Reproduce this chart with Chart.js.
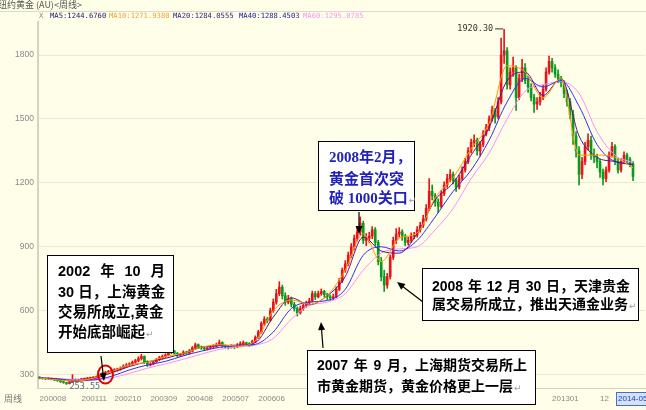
<!DOCTYPE html>
<html><head><meta charset="utf-8">
<script src="https://cdn.jsdelivr.net/npm/chart.js@4.4.1/dist/chart.umd.min.js"></script>
<style>html,body{margin:0;padding:0;background:#fefee9;overflow:hidden}canvas{display:block}</style>
</head><body>
<canvas id="c" width="646" height="410"></canvas>
<script>
// ---------- data ----------
const title = '纽约黄金 (AU)<周线>';
const opens = [
286,284,282,280,283,278,274,272,266,262,
258,264,275,272,276,278,280,282,284,286,
290,296,305,310,315,318,322,325,330,340,
345,350,358,365,375,385,360,345,350,360,
370,380,385,392,405,410,400,390,395,405,
400,410,425,440,430,425,420,425,430,432,
440,450,435,430,428,432,430,438,445,448,
445,440,455,475,500,540,560,555,600,640,
680,710,670,640,655,630,610,590,610,625,
635,645,680,665,680,690,675,665,660,665,
700,740,790,820,860,900,940,970,1010,930,
940,950,980,920,830,760,720,760,850,930,
960,970,950,920,930,950,955,980,1000,1030,
1080,1160,1140,1110,1090,1150,1190,1220,1240,1210,
1180,1220,1260,1300,1350,1390,1400,1350,1380,1430,
1460,1500,1540,1510,1580,1800,1820,1660,1720,1740,
1600,1690,1740,1680,1650,1600,1570,1580,1600,1640,
1720,1770,1740,1710,1690,1670,1620,1580,1520,1420,
1350,1240,1300,1370,1400,1330,1320,1300,1250,1220,
1260,1330,1370,1300,1260,1300,1330,1310,1290];
const highs = [
290,287,285,287,285,281,277,274,268,264,
268,300,280,279,282,284,286,288,290,294,
300,310,316,320,324,328,330,336,346,352,
356,364,372,384,395,388,365,356,366,376,
386,392,398,412,420,414,404,400,412,410,
418,432,448,444,434,430,432,436,440,448,
462,454,440,436,440,438,446,454,458,452,
450,462,482,508,548,572,568,612,655,700,
736,720,684,672,664,640,618,622,636,645,
658,692,690,692,702,696,682,674,678,712,
752,800,835,875,915,955,990,1040,1020,962,
968,995,990,930,850,790,775,862,945,985,
990,980,958,945,965,968,995,1015,1048,1098,
1220,1190,1150,1125,1165,1205,1240,1262,1250,1220,
1235,1275,1315,1365,1405,1425,1410,1395,1445,1475,
1515,1560,1550,1600,1880,1920.3,1835,1740,1790,1750,
1710,1780,1760,1700,1665,1615,1600,1625,1660,1740,
1795,1785,1755,1730,1700,1680,1635,1595,1540,1440,
1370,1320,1390,1430,1420,1360,1335,1310,1265,1275,
1345,1390,1380,1315,1315,1345,1340,1320,1300];
const lows = [
280,278,276,278,275,271,268,263,259,253.55,
256,262,268,269,273,275,277,279,281,283,
287,292,300,306,310,313,316,320,327,334,
340,345,352,360,368,352,338,340,346,355,
365,372,380,388,398,394,382,384,390,394,
396,405,420,422,418,412,415,420,424,428,
435,428,424,420,424,422,426,432,440,436,
432,436,450,470,494,530,542,550,592,630,
670,655,625,632,618,598,575,584,602,615,
626,640,652,660,672,664,652,648,652,660,
694,732,780,810,848,885,925,955,915,905,
920,938,905,815,740,690,705,748,840,915,
945,930,905,908,920,938,945,968,990,1020,
1070,1120,1090,1060,1082,1140,1178,1205,1195,1160,
1172,1210,1250,1290,1340,1370,1330,1325,1370,1420,
1445,1490,1480,1500,1570,1760,1640,1640,1700,1540,
1590,1675,1665,1625,1585,1530,1545,1565,1590,1630,
1710,1720,1695,1670,1650,1600,1560,1500,1380,1320,
1190,1220,1285,1355,1310,1295,1270,1225,1190,1205,
1250,1320,1285,1245,1250,1290,1295,1275,1210];
const closes = [
284,282,280,283,278,274,272,266,262,258,
264,275,272,276,278,280,282,284,286,290,
296,305,310,315,318,322,325,330,340,345,
350,358,365,375,385,360,345,350,360,370,
380,385,392,405,410,400,390,395,405,400,
410,425,440,430,425,420,425,430,432,440,
450,435,430,428,432,430,438,445,448,445,
440,455,475,500,540,560,555,600,640,680,
710,670,640,655,630,610,590,610,625,635,
645,680,665,680,690,675,665,660,665,700,
740,790,820,860,900,940,970,1010,930,940,
950,980,920,830,760,720,760,850,930,960,
970,950,920,930,950,955,980,1000,1030,1080,
1160,1140,1110,1090,1150,1190,1220,1240,1210,1180,
1220,1260,1300,1350,1390,1400,1350,1380,1430,1460,
1500,1540,1510,1580,1800,1820,1660,1720,1740,1600,
1690,1740,1680,1650,1600,1570,1580,1600,1640,1720,
1770,1740,1710,1690,1670,1620,1580,1520,1420,1350,
1240,1300,1370,1400,1330,1320,1300,1250,1220,1260,
1330,1370,1300,1260,1300,1330,1310,1290,1230];

// moving averages, read at every 6th candle
const maIndex = [0,6,12,18,24,30,36,42,48,54,60,66,72,78,84,90,96,102,108,114,120,126,132,138,144,150,156,162,168,174,180,186,192,198];
const ma10 = [284,275,270,283,314,345,358,385,400,428,440,434,458,600,650,630,672,790,960,830,940,965,1130,1225,1360,1480,1750,1720,1600,1690,1330,1330,1320,1271];
const ma20 = [284,278,268,280,308,338,360,376,400,428,436,438,450,570,660,628,670,760,945,880,870,962,1120,1200,1330,1460,1680,1720,1610,1690,1420,1320,1300,1284];
const ma40 = [284,280,273,275,292,322,345,362,388,410,428,436,442,500,610,640,648,700,860,900,880,930,1040,1160,1260,1400,1580,1690,1650,1680,1560,1380,1300,1288];
const ma60 = [284,282,276,274,284,306,330,350,372,396,418,430,438,470,560,625,640,680,790,870,890,900,980,1080,1220,1340,1500,1630,1660,1675,1620,1440,1330,1295];

const maNames = ['MA5','MA10','MA20','MA40','MA60'];
const maLast = ['1244.6760','1271.9380','1284.0555','1288.4503','1295.0785'];

const yTicks = [300,600,900,1200,1500,1800];
const xTickIndex = [0,14,25,37,49,61,73,171,187,193];
const xTickLabels = ['200008','200111','200210','200309','200408','200507','200606','201301','12','2014-05'];

// ---------- styles ----------
const BG = '#fefee9';
const UP = '#e8141a', DOWN = '#0a9a1e';
const lineColors = {ma10:'#ff9a00', ma20:'#5c1290', ma40:'#2e2eff', ma60:'#ff8cff'};
const legendColors = ['#1c1c70','#f2a23a','#3a1a7a','#1c1c9c','#f59af5'];
const legendX = [50,109,173,239,303];

const candleColors = closes.map((c,i)=> c >= opens[i] ? UP : DOWN);
const bodyData = closes.map((c,i)=>({x:i, y:[opens[i], c]}));
const wickData = closes.map((c,i)=>({x:i, y:[lows[i], highs[i]]}));
const maLine = arr => arr.map((v,k)=>({x:maIndex[k], y:v}));

function arrow(ctx,x1,y1,x2,y2){
  const a=Math.atan2(y2-y1,x2-x1), L=8, W=3.5;
  ctx.strokeStyle='#000'; ctx.fillStyle='#000'; ctx.lineWidth=1.2;
  ctx.beginPath(); ctx.moveTo(x1,y1); ctx.lineTo(x2-Math.cos(a)*L*0.8,y2-Math.sin(a)*L*0.8); ctx.stroke();
  ctx.beginPath(); ctx.moveTo(x2,y2);
  ctx.lineTo(x2-Math.cos(a)*L+Math.sin(a)*W, y2-Math.sin(a)*L-Math.cos(a)*W);
  ctx.lineTo(x2-Math.cos(a)*L-Math.sin(a)*W, y2-Math.sin(a)*L+Math.cos(a)*W);
  ctx.closePath(); ctx.fill();
}
function box(ctx,x,y,w,h){
  ctx.fillStyle='#ffffff'; ctx.fillRect(x,y,w,h);
  ctx.strokeStyle='#000'; ctx.lineWidth=1; ctx.strokeRect(x+0.5,y+0.5,w,h);
}
function just(ctx,parts,x,w,y){
  const ws=parts.map(p=>ctx.measureText(p).width);
  const tot=ws.reduce((a,b)=>a+b,0);
  const gap=parts.length>1?(w-tot)/(parts.length-1):0;
  let cx=x; parts.forEach((p,k)=>{ctx.fillText(p,cx,y); cx+=ws[k]+gap;});
}
function ret(ctx,text,x,y){
  const w=ctx.measureText(text).width;
  ctx.fillText(text,x,y);
  const f=ctx.font, c=ctx.fillStyle;
  ctx.font='9px "DejaVu Sans"'; ctx.fillStyle='#9a9a9a'; ctx.fillText('↵',x+w+1,y+2);
  ctx.font=f; ctx.fillStyle=c;
}

const decor = {
  id:'decor',
  beforeDraw(chart){
    const ctx=chart.ctx; ctx.save();
    ctx.fillStyle=BG; ctx.fillRect(0,0,chart.width,chart.height);
    ctx.textBaseline='middle'; ctx.textAlign='left';
    ctx.font='9px "Noto Sans CJK SC"'; ctx.fillStyle='#555'; ctx.fillText(title,-2,5);
    ctx.strokeStyle='#dedbc9'; ctx.lineWidth=1;
    ctx.beginPath(); ctx.moveTo(0,11.5); ctx.lineTo(646,11.5); ctx.stroke();
    ctx.font='7.2px "DejaVu Sans Mono"';
    ctx.fillStyle='#8a8a8a'; ctx.fillText('X',39,16.5);
    maNames.forEach((n,k)=>{ctx.fillStyle=legendColors[k]; ctx.fillText(n+':'+maLast[k],legendX[k],16.5);});
    ctx.font='9px "Noto Sans CJK SC"'; ctx.fillStyle='#777'; ctx.fillText('周线',4,399);
    ctx.fillStyle='#d4e3fb'; ctx.fillRect(616,392,31,14);
    ctx.strokeStyle='#3f6fd0'; ctx.strokeRect(616.5,392.5,30,13);
    ctx.restore();
  },
  afterDraw(chart){
    const ctx=chart.ctx, xs=chart.scales.x, ys=chart.scales.y; ctx.save();
    ctx.textBaseline='middle'; ctx.textAlign='left';
    let iMax=0,iMin=0; highs.forEach((h,i)=>{if(h>highs[iMax])iMax=i;}); lows.forEach((l,i)=>{if(l<lows[iMin])iMin=i;});
    const px=xs.getPixelForValue(iMax), py=ys.getPixelForValue(highs[iMax]);
    ctx.font='8.5px "DejaVu Sans Mono"'; ctx.fillStyle='#333';
    ctx.textAlign='right'; ctx.fillText(highs[iMax].toFixed(2),px-11,py-1);
    ctx.strokeStyle='#333'; ctx.lineWidth=1; ctx.beginPath(); ctx.moveTo(px-9,py-0.5); ctx.lineTo(px-1,py-0.5); ctx.stroke();
    const lx=xs.getPixelForValue(iMin), ly=ys.getPixelForValue(lows[iMin]);
    ctx.textAlign='left'; ctx.fillStyle='#4d6a8c'; ctx.fillText(lows[iMin].toFixed(2),lx+3,ly+2);
    const cx=xs.getPixelForValue(22), cy=ys.getPixelForValue(300);
    ctx.strokeStyle='#e00000'; ctx.lineWidth=2; ctx.beginPath(); ctx.ellipse(cx,cy,7.5,9,0,0,Math.PI*2); ctx.stroke();
    arrow(ctx,101,356,104,381);
    arrow(ctx,359,212,359,234);
    arrow(ctx,323,348,321,322);
    arrow(ctx,423,302,397,282);
    box(ctx,47,255,126,97);
    ctx.fillStyle='#000'; ctx.font='700 14.5px "Liberation Sans", "Noto Sans CJK SC"';
    just(ctx,['2002','年','10','月'],58,107,272);
    ctx.fillText('30 日，上海黄金',58,293);
    ctx.fillText('交易所成立,黄金',58,313);
    ret(ctx,'开始底部崛起',58,333);
    box(ctx,318,141,96,69);
    ctx.fillStyle='#2222bb'; ctx.font='700 15px "Liberation Serif", "Noto Sans CJK SC"';
    ctx.fillText('2008年2月，',329,158);
    ctx.fillText('黄金首次突',329,180);
    ret(ctx,'破 1000关口',329,199);
    box(ctx,422,268,216,52);
    ctx.fillStyle='#000'; ctx.font='700 14px "Liberation Sans", "Noto Sans CJK SC"';
    just(ctx,['2008','年','12','月','30','日，天津贵金'],432,198,287);
    ret(ctx,'属交易所成立，推出天通金业务',432,305);
    box(ctx,307,350,228,54);
    ctx.fillStyle='#000';
    just(ctx,['2007','年','9','月，上海期货交易所上'],317,210,366);
    ret(ctx,'市黄金期货，黄金价格更上一层',317,387);
    ctx.restore();
  }
};

new Chart(document.getElementById('c'), {
  type:'bar',
  data:{
    datasets:[
      {type:'line', label:'MA10', data:maLine(ma10), borderColor:lineColors.ma10, borderWidth:1, pointRadius:0, cubicInterpolationMode:'monotone', order:0},
      {type:'line', label:'MA20', data:maLine(ma20), borderColor:lineColors.ma20, borderWidth:1, pointRadius:0, cubicInterpolationMode:'monotone', order:0},
      {type:'line', label:'MA40', data:maLine(ma40), borderColor:lineColors.ma40, borderWidth:1, pointRadius:0, cubicInterpolationMode:'monotone', order:0},
      {type:'line', label:'MA60', data:maLine(ma60), borderColor:lineColors.ma60, borderWidth:1, pointRadius:0, cubicInterpolationMode:'monotone', order:0},
      {type:'bar', label:'body', data:bodyData, backgroundColor:candleColors, barThickness:2, minBarLength:1, grouped:false, order:1},
      {type:'bar', label:'wick', data:wickData, backgroundColor:candleColors, barThickness:1, grouped:false, order:2}
    ]
  },
  options:{
    responsive:false, animation:false, devicePixelRatio:1, events:[],
    layout:{padding:{top:22,left:0,right:1,bottom:0}},
    plugins:{legend:{display:false}, tooltip:{enabled:false}},
    scales:{
      x:{type:'linear', min:-0.5, max:202, offset:false,
        afterBuildTicks:s=>{s.ticks=xTickIndex.map(v=>({value:v}));},
        afterFit:s=>{s.height=22; s.paddingLeft=0; s.paddingRight=0;},
        ticks:{autoSkip:false, maxRotation:0, minRotation:0, align:'start', padding:6,
          font:{size:8, family:'Liberation Sans'},
          color:c=> c.index===xTickLabels.length-1 ? '#1a3faa' : '#8a8a8a',
          callback:(v,i)=>xTickLabels[i]},
        grid:{display:false, drawTicks:false},
        border:{display:true, color:'#d8d4c2', width:1}},
      y:{min:237, max:1955, beginAtZero:false,
        afterBuildTicks:s=>{s.ticks=yTicks.map(v=>({value:v}));},
        afterFit:s=>{s.width=38; s.paddingTop=0; s.paddingBottom=0;},
        ticks:{padding:4, color:'#8a8a8a', font:{size:8.5, family:'Liberation Sans'}, callback:v=>String(v)},
        grid:{color:'#ece8d6', drawTicks:false, lineWidth:1},
        border:{display:true, color:'#d6d2c0', width:2}}
    }
  },
  plugins:[decor]
});
</script>
</body></html>
